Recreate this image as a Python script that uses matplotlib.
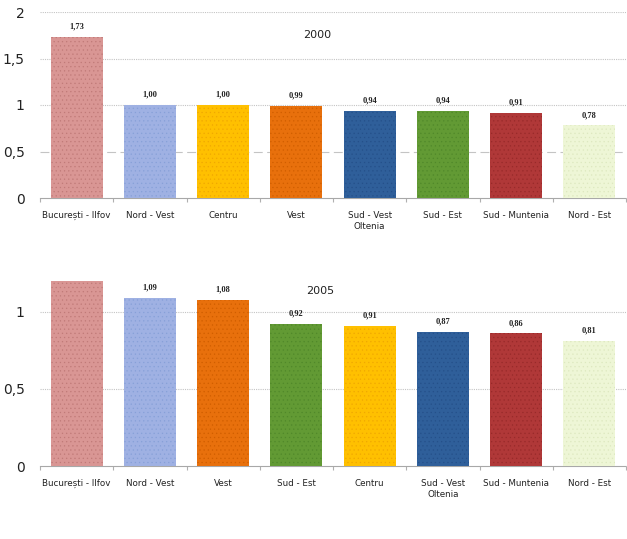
import matplotlib
matplotlib.use("Agg")
import matplotlib.pyplot as plt
import numpy as np

cats_2000 = ["București - Ilfov", "Nord - Vest", "Centru", "Vest", "Sud - Vest\nOltenia",
             "Sud - Est", "Sud - Muntenia", "Nord - Est"]
vals_2000 = [1.73, 1.00, 1.00, 0.99, 0.94, 0.94, 0.91, 0.78]

cats_2005 = ["București - Ilfov", "Nord - Vest", "Vest", "Sud - Est", "Centru",
             "Sud - Vest\nOltenia", "Sud - Muntenia", "Nord - Est"]
vals_2005 = [1.22, 1.09, 1.08, 0.92, 0.91, 0.87, 0.86, 0.81]

yticks_2000 = [0, 0.5, 1, 1.5, 2]
yticks_2005 = [0, 0.5, 1]

colors = {
    "București - Ilfov": ("#d99694", "#c07a78"),
    "Nord - Vest": ("#9fb1e3", "#87a0d8"),
    "Centru": ("#ffc000", "#f0a800"),
    "Vest": ("#e8700c", "#d05e00"),
    "Sud - Vest\nOltenia": ("#2f5f9a", "#25508a"),
    "Sud - Est": ("#629a34", "#50882a"),
    "Sud - Muntenia": ("#b03838", "#982a2a"),
    "Nord - Est": ("#eef6d6", "#dde8bf"),
}

def fmt(v):
    return ("%.2f" % v).replace(".", ",")

def tickfmt(v):
    return ("%g" % v).replace(".", ",")

plt.rcParams["hatch.linewidth"] = 0.4
fig = plt.figure(figsize=(6.27, 5.39), dpi=100)

def draw(ax, cats, vals, yticks, ylim, title, title_xy, dashed_half=False):
    x = np.arange(len(cats))
    for i, (c, v) in enumerate(zip(cats, vals)):
        fc, hc = colors[c]
        ax.bar(i, v, width=0.71, color=fc, edgecolor=hc, linewidth=0, hatch="....", zorder=3)
        ax.text(i, v + ylim * 0.035, fmt(v), ha="center", va="bottom", fontsize=6,
                fontweight="bold", family="Liberation Serif", color="#222222", clip_on=True, zorder=4)
    ax.set_xlim(-0.5, len(cats) - 0.5)
    ax.set_ylim(0, ylim)
    ax.set_yticks(yticks)
    ax.set_yticklabels([tickfmt(t) for t in yticks], fontsize=10, family="DejaVu Sans", color="#222222")
    for t in yticks[1:]:
        ls = (0, (8, 4)) if (dashed_half and t == 0.5) else (0, (1, 1))
        ax.axhline(t, color="#c4c4c4", lw=0.8, ls=ls, zorder=1)
    ax.set_xticks(x)
    ax.set_xticklabels(cats, fontsize=6.3, color="#222222", linespacing=1.4)
    ax.set_xticks(np.arange(len(cats) + 1) - 0.5, minor=True)
    ax.tick_params(axis="x", which="major", length=0, pad=9)
    ax.tick_params(axis="x", which="minor", length=3, color="#b0b0b0", width=0.8)
    ax.tick_params(axis="y", length=0, pad=11)
    for s in ["top", "right", "left"]:
        ax.spines[s].set_visible(False)
    ax.spines["bottom"].set_color("#a8a8a8")
    ax.spines["bottom"].set_linestyle((0, (1, 1)))
    ax.spines["bottom"].set_linewidth(0.8)
    ax.text(title_xy[0], title_xy[1], title, transform=ax.transAxes, fontsize=8,
            ha="left", va="center", color="#222222")

ax1 = fig.add_axes([40 / 627, 1 - 198 / 539, 586 / 627, 186 / 539])
draw(ax1, cats_2000, vals_2000, yticks_2000, 2.0, "2000", ((303 - 40) / 586, (198 - 35) / 186), dashed_half=True)

ax2 = fig.add_axes([40 / 627, 1 - 466 / 539, 586 / 627, 185 / 539])
draw(ax2, cats_2005, vals_2005, yticks_2005, 1.2, "2005", ((306 - 40) / 586, (466 - 291) / 185))

fig.savefig("out.png", dpi=100)
